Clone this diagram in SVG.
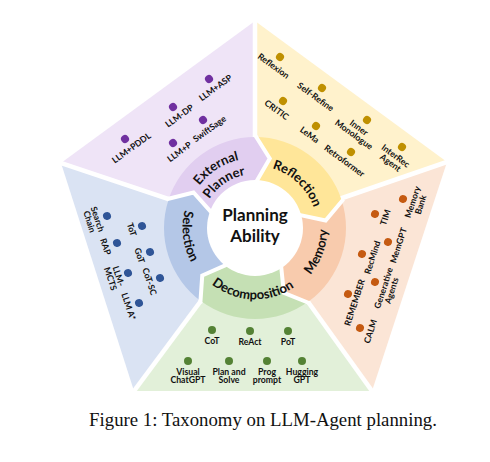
<svg xmlns="http://www.w3.org/2000/svg" width="490" height="462" viewBox="0 0 490 462">
<style>
.lbl{font-family:Lato,"Liberation Sans",sans-serif;font-weight:bold;font-size:8.7px;fill:#111;text-anchor:middle}
.rt{font-family:Lato,"Liberation Sans",sans-serif;font-weight:bold;font-size:13px;fill:#111}
.sep{stroke:#fff;stroke-width:4.5;fill:none;stroke-linejoin:miter}
.ext circle{fill:#7030a0}.refl circle{fill:#bf9000}.mem circle{fill:#c55a11}.dec circle{fill:#548235}.sel circle{fill:#2f5597}
</style>
<defs>
<path id="pRefl" d="M264.16 166.68 A62 62 0 0 1 315.75 215.64"/>
<path id="pExt1" d="M190.1 201.78 A70 70 0 0 1 257.44 158.04"/>
<path id="pExt2" d="M204.59 208.65 A54 54 0 0 1 255.94 174.01"/>
<path id="pMem" d="M295.85 287.89 A72.5 72.5 0 0 0 325.25 210.09"/>
<path id="pDec" d="M207.49 280.76 A70 70 0 0 0 298.71 283.95"/>
<path id="pSel" d="M190.99 193.96 A72.5 72.5 0 0 0 201.12 276.51"/>
</defs>
<rect width="490" height="462" fill="#fff"/>

<g id="backgrounds">
<polygon points="255,228 61,163 255,21" fill="#efe4f7"/>
<polygon points="255,228 255,21 447,162" fill="#fff2cc"/>
<polygon points="255,228 447,162 372,391" fill="#fbe5d6"/>
<polygon points="255,228 372,391 134,391" fill="#e2f0d9"/>
<polygon points="255,228 134,391 61,163" fill="#dae3f3"/>
</g>
<g id="separators" class="sep">
<line x1="255" y1="228" x2="255" y2="15"/>
<line x1="255" y1="228" x2="452.7" y2="160"/>
<line x1="255" y1="228" x2="375.5" y2="395.9"/>
<line x1="255" y1="228" x2="130.4" y2="395.8"/>
<line x1="255" y1="228" x2="55.3" y2="161.1"/>
</g>
<g id="ring">
<path d="M168.45 199.88 A91 91 0 0 1 255 137 L269.76 158.55 L255 184 A44 44 0 0 0 213.15 214.4 L193.51 192.5 Z" fill="#e1cef0"/>
<path d="M255 137 A91 91 0 0 1 341.55 199.88 L325.61 220.58 L296.85 214.4 A44 44 0 0 0 255 184 L269.76 158.55 Z" fill="#ffe699"/>
<path d="M341.55 199.88 A91 91 0 0 1 308.49 301.62 L283.88 292.86 L280.86 263.6 A44 44 0 0 0 296.85 214.4 L325.61 220.58 Z" fill="#f8cbad"/>
<path d="M308.49 301.62 A91 91 0 0 1 201.51 301.62 L202.24 275.51 L229.14 263.6 A44 44 0 0 0 280.86 263.6 L283.88 292.86 Z" fill="#c5e0b4"/>
<path d="M201.51 301.62 A91 91 0 0 1 168.45 199.88 L193.51 192.5 L213.15 214.4 A44 44 0 0 0 229.14 263.6 L202.24 275.51 Z" fill="#b4c7e7"/>
</g>
<g id="ring-gaps" class="sep" style="stroke-width:4">
<polyline points="255,135 269.76,158.55 255,184"/>
<polyline points="343.45,199.26 325.61,220.58 296.85,214.4"/>
<polyline points="309.67,303.24 283.88,292.86 280.86,263.6"/>
<polyline points="200.33,303.24 202.24,275.51 229.14,263.6"/>
<polyline points="166.55,199.26 193.51,192.5 213.15,214.4"/>
</g>

<g id="center">
<circle cx="255" cy="228" r="48" fill="#fff"/>
<text x="255" y="221" text-anchor="middle" style="font-family:Lato,'Liberation Sans',sans-serif;font-weight:bold;font-size:17px;fill:#111">Planning</text>
<text x="255" y="242" text-anchor="middle" style="font-family:Lato,'Liberation Sans',sans-serif;font-weight:bold;font-size:17px;fill:#111">Ability</text>
</g>

<g id="external-planner" class="ext">
<text class="rt"><textPath href="#pExt1" startOffset="50%" text-anchor="middle">External</textPath></text>
<text class="rt"><textPath href="#pExt2" startOffset="50%" text-anchor="middle">Planner</textPath></text>
<g transform="translate(209,79) rotate(-36)"><circle r="4"/><text class="lbl" y="14">LLM+ASP</text></g>
<g transform="translate(173,107) rotate(-36)"><circle r="4"/><text class="lbl" y="14">LLM-DP</text></g>
<g transform="translate(203,120) rotate(-36)"><circle r="4"/><text class="lbl" y="14">SwiftSage</text></g>
<g transform="translate(125,139) rotate(-36)"><circle r="4"/><text class="lbl" y="14">LLM+PDDL</text></g>
<g transform="translate(173,143) rotate(-36)"><circle r="4"/><text class="lbl" y="14">LLM+P</text></g>
</g>

<g id="reflection" class="refl">
<text class="rt"><textPath href="#pRefl" startOffset="50%" text-anchor="middle">Reflection</textPath></text>
<g transform="translate(280,57) rotate(36)"><circle r="4"/><text class="lbl" y="14">Reflexion</text></g>
<g transform="translate(322,88) rotate(36)"><circle r="4"/><text class="lbl" y="14">Self-Refine</text></g>
<g transform="translate(283,101) rotate(36)"><circle r="4"/><text class="lbl" y="14">CRITIC</text></g>
<g transform="translate(367,120) rotate(36)"><circle r="4"/><text class="lbl" y="14"><tspan x="-2">Inner</tspan><tspan x="-2" dy="8.5">Monologue</tspan></text></g>
<g transform="translate(316,126) rotate(36)"><circle r="4"/><text class="lbl" y="14">LeMa</text></g>
<g transform="translate(351,152) rotate(36)"><circle r="4"/><text class="lbl" y="14">Retroformer</text></g>
<g transform="translate(402,147) rotate(36)"><circle r="4"/><text class="lbl" y="14"><tspan x="0">InterRec</tspan><tspan x="0" dy="8.5">Agent</tspan></text></g>
</g>

<g id="memory" class="mem">
<text class="rt"><textPath href="#pMem" startOffset="50%" text-anchor="middle">Memory</textPath></text>
<g transform="translate(403,199) rotate(-72)"><circle r="4"/><text class="lbl" y="13"><tspan x="0">Memory</tspan><tspan x="0" dy="8.5">Bank</tspan></text></g>
<g transform="translate(375,214) rotate(-72)"><circle r="4"/><text class="lbl" y="14">TIM</text></g>
<g transform="translate(388,242) rotate(-72)"><circle r="4"/><text class="lbl" y="14">MemGPT</text></g>
<g transform="translate(362,254) rotate(-72)"><circle r="4"/><text class="lbl" y="14">RecMind</text></g>
<g transform="translate(375,282) rotate(-72)"><circle r="4"/><text class="lbl" y="13"><tspan x="-3">Generative</tspan><tspan x="-3" dy="8.5">Agents</tspan></text></g>
<g transform="translate(348,294) rotate(-72)"><circle r="4"/><text class="lbl" x="-6" y="12">REMEMBER</text></g>
<g transform="translate(360,328) rotate(-72)"><circle r="4"/><text class="lbl" y="14">CALM</text></g>
</g>

<g id="decomposition" class="dec">
<text class="rt"><textPath href="#pDec" startOffset="50%" text-anchor="middle">Decomposition</textPath></text>
<g transform="translate(212,330)"><circle r="4"/><text class="lbl" y="14">CoT</text></g>
<g transform="translate(250,331)"><circle r="4"/><text class="lbl" y="14">ReAct</text></g>
<g transform="translate(288,331)"><circle r="4"/><text class="lbl" y="14">PoT</text></g>
<g transform="translate(188,361)"><circle r="4"/><text class="lbl" y="13.5"><tspan x="0">Visual</tspan><tspan x="0" dy="8">ChatGPT</tspan></text></g>
<g transform="translate(229,361)"><circle r="4"/><text class="lbl" y="13.5"><tspan x="0">Plan and</tspan><tspan x="0" dy="8">Solve</tspan></text></g>
<g transform="translate(267,361)"><circle r="4"/><text class="lbl" y="13.5"><tspan x="0">Prog</tspan><tspan x="0" dy="8">prompt</tspan></text></g>
<g transform="translate(302,361)"><circle r="4"/><text class="lbl" y="13.5"><tspan x="0">Hugging</tspan><tspan x="0" dy="8">GPT</tspan></text></g>
</g>

<g id="selection" class="sel">
<text class="rt"><textPath href="#pSel" startOffset="50%" text-anchor="middle">Selection</textPath></text>
<g transform="translate(107,216) rotate(72)"><circle r="4"/><text class="lbl" y="13"><tspan x="0">Search</tspan><tspan x="0" dy="8.5">Chain</tspan></text></g>
<g transform="translate(142,226) rotate(72)"><circle r="4"/><text class="lbl" y="14">ToT</text></g>
<g transform="translate(117,243) rotate(72)"><circle r="4"/><text class="lbl" y="15">RAP</text></g>
<g transform="translate(150,252) rotate(72)"><circle r="4"/><text class="lbl" y="14">GoT</text></g>
<g transform="translate(128,273) rotate(72)"><circle r="4"/><text class="lbl" y="13"><tspan x="0">LLM-</tspan><tspan x="0" dy="8.5">MCTS</tspan></text></g>
<g transform="translate(160,278) rotate(72)"><circle r="4"/><text class="lbl" y="14">CoT-SC</text></g>
<g transform="translate(139,303) rotate(72)"><circle r="4"/><text class="lbl" y="14">LLM A*</text></g>
</g>

<text id="caption" x="263" y="426" text-anchor="middle" style="font-family:'Liberation Serif','Times New Roman',serif;font-size:18.8px;fill:#111">Figure 1: Taxonomy on LLM-Agent planning.</text>
</svg>
